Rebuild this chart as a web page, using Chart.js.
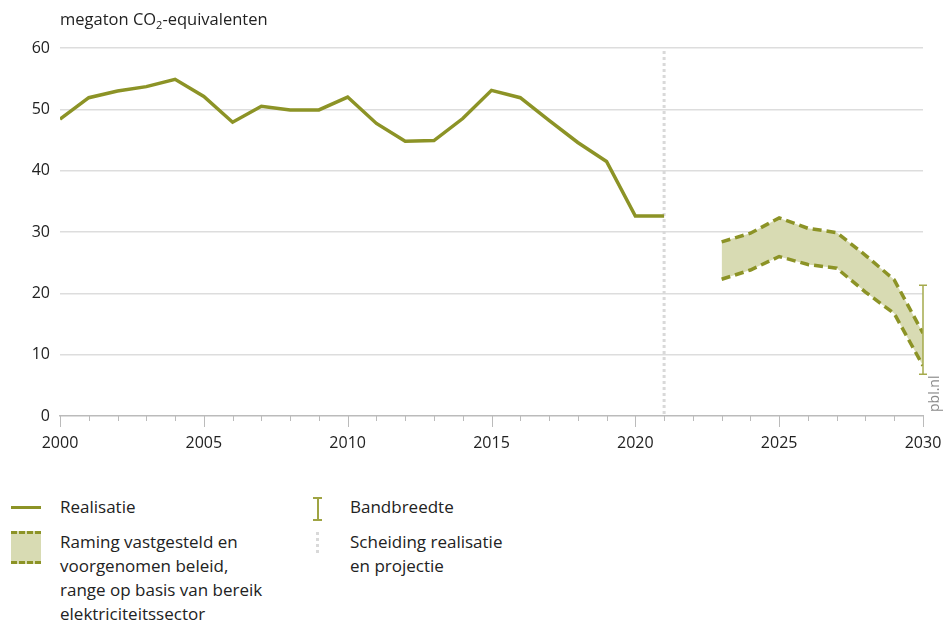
<!DOCTYPE html>
<html>
<head>
<meta charset="utf-8">
<script src="https://cdn.jsdelivr.net/npm/chart.js@4"></script>
<style>
    body { margin: 0; background: #fff; font-family: 'Open Sans', sans-serif; color: #222; }
    #wrap { position: relative; width: 945px; height: 620px; overflow: hidden; }
    #chart { position: absolute; left: 0; top: 0; }
    .title { position: absolute; left: 60px; top: 7px; font-size: 16.5px; }
    .title sub { font-size: 11px; }
    .legend-item { position: absolute; font-size: 17px; line-height: 24px; }
    .icon { position: absolute; }
</style>
</head>
<body>
<div id="wrap">
    <canvas id="chart" width="945" height="482"></canvas>
    <div class="title">megaton CO<sub>2</sub>-equivalenten</div>

    <div class="icon" style="left:11px;top:506px;width:30px;height:3px;background:#8c9326"></div>
    <div class="legend-item" style="left:60px;top:495px">Realisatie</div>

    <div class="icon" style="left:11px;top:531px;width:30px;height:33px;background:#d8dbb3;
        border-top:3px dashed #8c9326;border-bottom:3px dashed #8c9326;box-sizing:border-box"></div>
    <div class="legend-item" style="left:60px;top:530px">Raming vastgesteld en<br>voorgenomen beleid,<br>range op basis van bereik<br>elektriciteitssector</div>

    <div class="icon" style="left:313px;top:497px;width:9px;height:24px;box-sizing:border-box;
        border-top:2px solid #9fa443;border-bottom:2px solid #9fa443"></div>
    <div class="icon" style="left:316.5px;top:497px;width:2px;height:24px;background:#9fa443"></div>
    <div class="legend-item" style="left:350px;top:495px">Bandbreedte</div>

    <div class="icon" style="left:316px;top:532px;width:3px;height:24px;
        background:repeating-linear-gradient(#d9d9d9 0 3px, transparent 3px 6px)"></div>
    <div class="legend-item" style="left:350px;top:530px">Scheiding realisatie<br>en projectie</div>
</div>
<script>
const years = [2000, 2001, 2002, 2003, 2004, 2005, 2006, 2007, 2008, 2009, 2010,
    2011, 2012, 2013, 2014, 2015, 2016, 2017, 2018, 2019, 2020, 2021];
const realisatie = [48.4, 51.9, 53.0, 53.7, 54.9, 52.1, 47.9, 50.5, 49.9, 49.9, 52.0,
    47.7, 44.8, 44.9, 48.5, 53.1, 51.9, 48.2, 44.6, 41.5, 32.6, 32.6];

const projYears = [2023, 2024, 2025, 2026, 2027, 2028, 2029, 2030];
const ramingHoog = [28.4, 29.8, 32.3, 30.6, 29.9, 26.2, 22.2, 13.5];
const ramingLaag = [22.3, 23.8, 26.0, 24.7, 24.1, 20.2, 16.7, 8.2];

const bandYear = 2030;
const bandbreedte = [6.8, 21.3];
const scheidingYear = 2021;
const yTicks = [0, 10, 20, 30, 40, 50, 60];

const olive = '#8c9326';

function pts(xs, ys) {
    return xs.map((x, i) => ({ x: x, y: ys[i] }));
}

const extras = {
    id: 'extras',
    beforeDatasetsDraw(chart) {
        const { ctx, scales: { x, y } } = chart;
        ctx.save();
        // scheiding realisatie / projectie
        ctx.strokeStyle = '#d9d9d9';
        ctx.lineWidth = 3;
        ctx.setLineDash([3, 3]);
        const sx = x.getPixelForValue(scheidingYear);
        ctx.beginPath();
        ctx.moveTo(sx, y.getPixelForValue(60) + 3);
        ctx.lineTo(sx, y.getPixelForValue(0));
        ctx.stroke();
        ctx.setLineDash([]);
        // ticks on x axis
        ctx.strokeStyle = '#bbbbbb';
        ctx.lineWidth = 1;
        const base = y.getPixelForValue(0);
        for (let yr = 2000; yr <= 2030; yr++) {
            const px = Math.round(x.getPixelForValue(yr)) + 0.5;
            ctx.beginPath();
            ctx.moveTo(px, base);
            ctx.lineTo(px, base + (yr % 5 === 0 ? 11 : 5));
            ctx.stroke();
        }
        ctx.restore();
    },
    afterDatasetsDraw(chart) {
        const { ctx, scales: { x, y } } = chart;
        ctx.save();
        // bandbreedte
        const bx = x.getPixelForValue(bandYear);
        const y1 = y.getPixelForValue(bandbreedte[0]);
        const y2 = y.getPixelForValue(bandbreedte[1]);
        ctx.strokeStyle = '#a5aa4c';
        ctx.lineWidth = 1.5;
        ctx.beginPath();
        ctx.moveTo(bx, y1); ctx.lineTo(bx, y2);
        ctx.moveTo(bx - 4, y1); ctx.lineTo(bx + 4, y1);
        ctx.moveTo(bx - 4, y2); ctx.lineTo(bx + 4, y2);
        ctx.stroke();
        // pbl.nl
        ctx.translate(942, y.getPixelForValue(0) - 4);
        ctx.rotate(-Math.PI / 2);
        ctx.fillStyle = '#8a8a8a';
        ctx.font = '14px "Open Sans"';
        ctx.textAlign = 'left';
        ctx.textBaseline = 'bottom';
        ctx.fillText('pbl.nl', 0, 0);
        ctx.restore();
    }
};

new Chart(document.getElementById('chart').getContext('2d'), {
    type: 'line',
    data: {
        datasets: [{
            label: 'Realisatie',
            data: pts(years, realisatie),
            borderColor: olive,
            borderWidth: 3.5,
            pointRadius: 0,
            fill: false
        }, {
            label: 'Raming hoog',
            data: pts(projYears, ramingHoog),
            borderColor: olive,
            borderWidth: 3.5,
            borderDash: [9, 5],
            pointRadius: 0,
            fill: false
        }, {
            label: 'Raming laag',
            data: pts(projYears, ramingLaag),
            borderColor: olive,
            borderWidth: 3.5,
            borderDash: [9, 5],
            backgroundColor: '#d8dbb3',
            pointRadius: 0,
            fill: '-1'
        }]
    },
    options: {
        responsive: false,
        animation: false,
        layout: { padding: { top: 48, right: 22, left: 0, bottom: 0 } },
        plugins: { legend: { display: false }, tooltip: { enabled: false } },
        scales: {
            x: {
                type: 'linear',
                min: 2000,
                max: 2030,
                afterFit(scale) {
                    scale.height = 66;
                    scale.paddingLeft = 0;
                    scale.paddingRight = 0;
                },
                grid: { drawOnChartArea: false, drawTicks: false },
                border: { display: true, color: '#bbbbbb', width: 1.5 },
                ticks: {
                    stepSize: 5,
                    padding: 18,
                    color: '#222',
                    font: { family: 'Open Sans', size: 16 },
                    maxRotation: 0,
                    callback: v => String(v)
                }
            },
            y: {
                min: 0,
                max: 60,
                afterFit(scale) { scale.width = 60; },
                afterBuildTicks(scale) { scale.ticks = yTicks.map(v => ({ value: v })); },
                grid: {
                    color: ctx => ctx.tick && ctx.tick.value === 0 ? 'rgba(0,0,0,0)' : '#dddddd',
                    lineWidth: 1.5,
                    drawTicks: false
                },
                border: { display: false },
                ticks: {
                    padding: 10,
                    color: '#222',
                    font: { family: 'Open Sans', size: 16 }
                }
            }
        }
    },
    plugins: [extras]
});
</script>
</body>
</html>
